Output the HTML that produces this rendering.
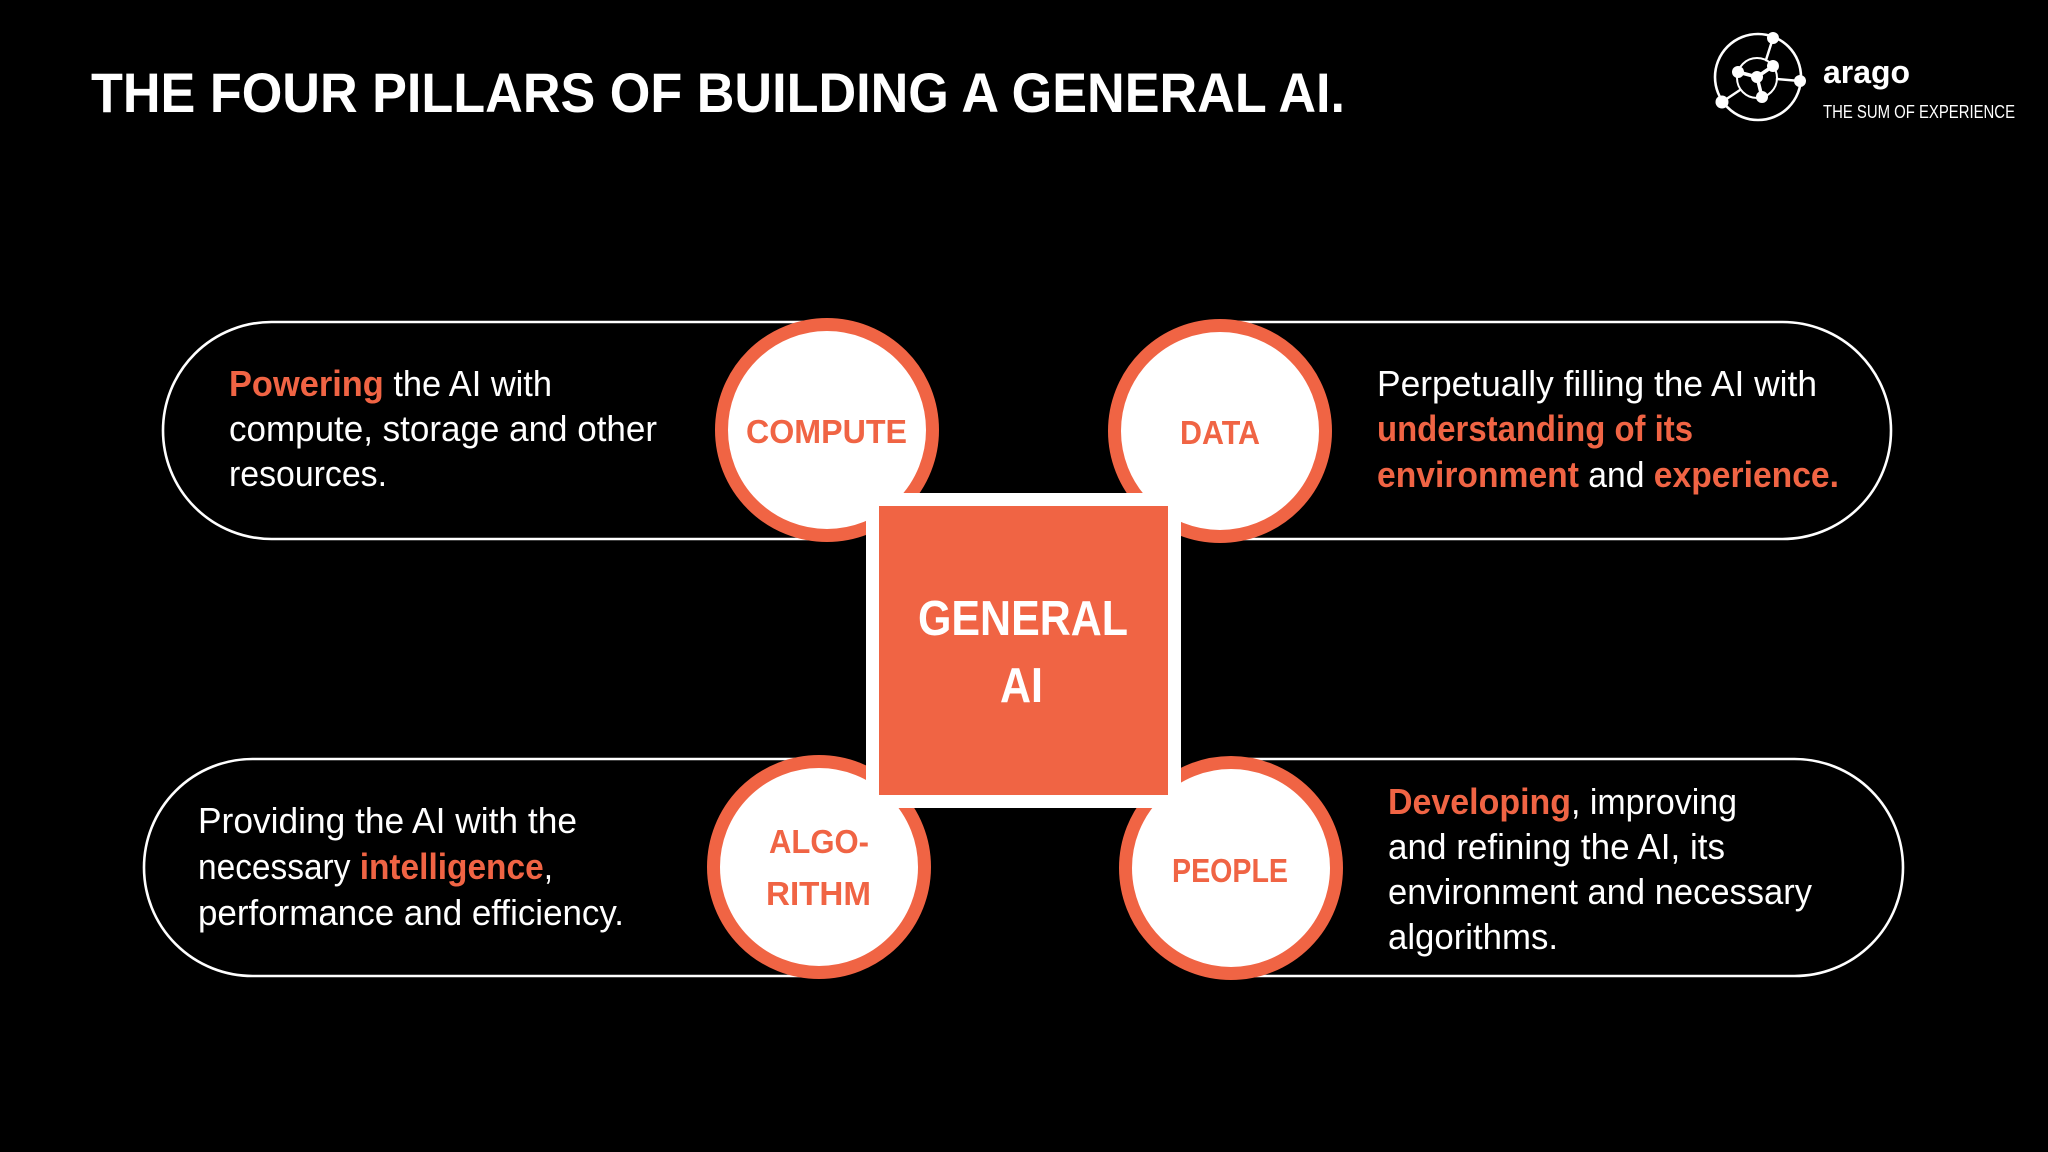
<!DOCTYPE html>
<html>
<head>
<meta charset="utf-8">
<style>
  html, body { margin: 0; padding: 0; background: #000; }
  body { width: 2048px; height: 1152px; overflow: hidden; }
  svg { display: block; }
  text { font-family: "Liberation Sans", Arial, sans-serif; }
</style>
</head>
<body>
<svg width="2048" height="1152" viewBox="0 0 2048 1152" xmlns="http://www.w3.org/2000/svg">
  <rect x="0" y="0" width="2048" height="1152" fill="#000"/>

  <!-- Title -->
  <text x="91" y="112" font-size="56" font-weight="bold" fill="#fff" textLength="1254" lengthAdjust="spacingAndGlyphs">THE FOUR PILLARS OF BUILDING A GENERAL AI.</text>

  <!-- Logo -->
  <g fill="none" stroke="#fff" stroke-linecap="round">
    <circle cx="1758" cy="77" r="43" stroke-width="2.6"/>
    <circle cx="1757" cy="78" r="20" stroke-width="2"/>
    <line x1="1773" y1="38" x2="1766" y2="60" stroke-width="2.5"/>
    <line x1="1800" y1="81" x2="1777" y2="79" stroke-width="2.5"/>
    <line x1="1722" y1="102" x2="1740" y2="90" stroke-width="2.5"/>
    <line x1="1757" y1="77" x2="1738" y2="72" stroke-width="3.5"/>
    <line x1="1757" y1="77" x2="1773" y2="66" stroke-width="3.5"/>
    <line x1="1757" y1="77" x2="1762" y2="97" stroke-width="3.5"/>
  </g>
  <g fill="#fff">
    <circle cx="1773" cy="38" r="6"/>
    <circle cx="1800" cy="81" r="6"/>
    <circle cx="1722" cy="102" r="6.5"/>
    <circle cx="1738" cy="72" r="6"/>
    <circle cx="1757" cy="77" r="6"/>
    <circle cx="1773" cy="66" r="6"/>
    <circle cx="1762" cy="97" r="6"/>
  </g>
  <text x="1823" y="83" font-size="32" font-weight="bold" fill="#fff" textLength="87" lengthAdjust="spacingAndGlyphs">arago</text>
  <text x="1823" y="118" font-size="18" fill="#fff" textLength="192" lengthAdjust="spacingAndGlyphs">THE SUM OF EXPERIENCE</text>

  <!-- Pills -->
  <g fill="#000" stroke="#fff" stroke-width="2.6">
    <rect x="163" y="322" width="773" height="217" rx="108.5" ry="108.5"/>
    <rect x="1111" y="322" width="780" height="217" rx="108.5" ry="108.5"/>
    <rect x="144" y="759" width="784" height="217" rx="108.5" ry="108.5"/>
    <rect x="1122" y="759" width="781" height="217" rx="108.5" ry="108.5"/>
  </g>

  <!-- Pill texts -->
  <g font-size="36" fill="#fff">
    <text x="229" y="396" textLength="323" lengthAdjust="spacingAndGlyphs"><tspan fill="#F06444" font-weight="bold">Powering</tspan> the AI with</text>
    <text x="229" y="441" textLength="428" lengthAdjust="spacingAndGlyphs">compute, storage and other</text>
    <text x="229" y="486" textLength="158" lengthAdjust="spacingAndGlyphs">resources.</text>

    <text x="1377" y="396" textLength="440" lengthAdjust="spacingAndGlyphs">Perpetually filling the AI with</text>
    <text x="1377" y="441" textLength="316" lengthAdjust="spacingAndGlyphs" fill="#F06444" font-weight="bold">understanding of its</text>
    <text x="1377" y="487" textLength="462" lengthAdjust="spacingAndGlyphs"><tspan fill="#F06444" font-weight="bold">environment</tspan> and <tspan fill="#F06444" font-weight="bold">experience.</tspan></text>

    <text x="198" y="833" textLength="379" lengthAdjust="spacingAndGlyphs">Providing the AI with the</text>
    <text x="198" y="879" textLength="355" lengthAdjust="spacingAndGlyphs">necessary <tspan fill="#F06444" font-weight="bold">intelligence</tspan>,</text>
    <text x="198" y="925" textLength="426" lengthAdjust="spacingAndGlyphs">performance and efficiency.</text>

    <text x="1388" y="814" textLength="349" lengthAdjust="spacingAndGlyphs"><tspan fill="#F06444" font-weight="bold">Developing</tspan>, improving</text>
    <text x="1388" y="859" textLength="337" lengthAdjust="spacingAndGlyphs">and refining the AI, its</text>
    <text x="1388" y="904" textLength="424" lengthAdjust="spacingAndGlyphs">environment and necessary</text>
    <text x="1388" y="949" textLength="170" lengthAdjust="spacingAndGlyphs">algorithms.</text>
  </g>

  <!-- Circles -->
  <g fill="#fff" stroke="#F06444" stroke-width="13">
    <circle cx="827" cy="430" r="105.5"/>
    <circle cx="1220" cy="431" r="105.5"/>
    <circle cx="819" cy="867" r="105.5"/>
    <circle cx="1231" cy="868" r="105.5"/>
  </g>

  <!-- Circle labels -->
  <g font-size="33" font-weight="bold" fill="#F06444">
    <text x="746" y="443" textLength="161" lengthAdjust="spacingAndGlyphs">COMPUTE</text>
    <text x="1180" y="444" textLength="80" lengthAdjust="spacingAndGlyphs">DATA</text>
    <text x="769" y="853" textLength="100" lengthAdjust="spacingAndGlyphs">ALGO-</text>
    <text x="766" y="905" textLength="105" lengthAdjust="spacingAndGlyphs">RITHM</text>
    <text x="1172" y="882" textLength="116" lengthAdjust="spacingAndGlyphs">PEOPLE</text>
  </g>

  <!-- Center square -->
  <rect x="866" y="493" width="315" height="315" fill="#fff"/>
  <rect x="879" y="506" width="289" height="289" fill="#F06444"/>
  <text x="918" y="635" font-size="49" font-weight="bold" fill="#fff" textLength="210" lengthAdjust="spacingAndGlyphs">GENERAL</text>
  <text x="1000" y="702" font-size="49" font-weight="bold" fill="#fff" textLength="43" lengthAdjust="spacingAndGlyphs">AI</text>
</svg>
</body>
</html>
